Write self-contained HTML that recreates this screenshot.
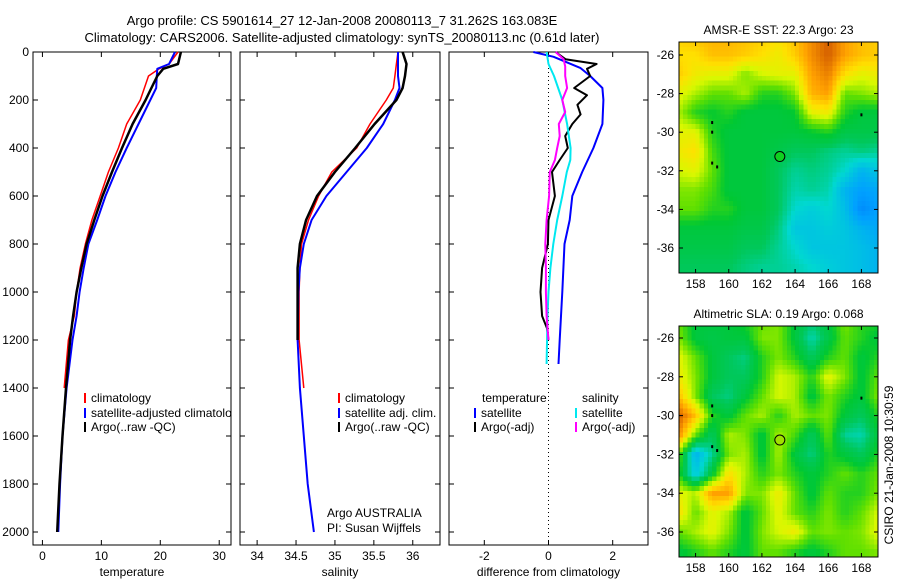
<!DOCTYPE html>
<html><head><meta charset="utf-8"><style>
html,body{margin:0;padding:0;background:#fff;}
svg{display:block;font-family:"Liberation Sans",sans-serif;}
text{font-size:12px;fill:#000;}
</style></head><body>
<svg id="fig" width="900" height="580" viewBox="0 0 900 580" xmlns="http://www.w3.org/2000/svg">
<defs><clipPath id="clipP1"><rect x="33" y="52" width="198" height="493"/></clipPath></defs>
<text x="342" y="25" text-anchor="middle" style="font-size:13px">Argo profile: CS 5901614_27 12-Jan-2008 20080113_7 31.262S 163.083E</text>
<text x="342" y="42" text-anchor="middle" style="font-size:13px">Climatology: CARS2006. Satellite-adjusted climatology: synTS_20080113.nc (0.61d later)</text>
</svg>
<script>
// ---------- data ----------
const tDepth = [0,50,70,100,150,200,300,400,500,600,700,800,900,1000,1100,1200,1400,1600,1800,2000];
const tClim  = [23,21.5,19.8,18,17.3,16.6,14.3,12.9,11.2,9.8,8.4,7.3,6.4,5.8,5.4,4.4,3.7];
const tSat   = [22.5,21.5,19.5,19.4,19.3,18.3,16.3,14.3,12.4,10.7,9.3,7.8,7.0,6.3,5.8,5.1,4.1,3.4,3.0,2.7];
const tArgo  = [23.5,23,20.5,19.5,18.5,17.5,15.3,13.5,11.8,10.2,8.8,7.5,6.6,5.8,5.2,4.7,4.0,3.4,2.9,2.5];
const sDepth = [0,50,100,150,200,300,400,500,600,700,800,900,1000,1200,1400,1600,1800,2000];
const sClim  = [35.81,35.79,35.77,35.75,35.66,35.45,35.28,34.96,34.79,34.66,34.57,34.55,34.54,34.54,34.6];
const sSat   = [35.81,35.81,35.81,35.83,35.77,35.62,35.41,35.15,34.89,34.70,34.60,34.55,34.53,34.52,34.55,34.60,34.65,34.73];
const sArgo  = [35.87,35.92,35.90,35.87,35.79,35.51,35.26,35.00,34.77,34.63,34.55,34.52,34.52,34.52];
const dDepthSatT = [0,20,67,100,150,200,300,400,500,600,700,800,1000,1200,1300];
const dSatT      = [-0.47,0.16,1.0,1.3,1.68,1.71,1.68,1.4,1.05,0.74,0.66,0.5,0.43,0.35,0.31];
const dDepthArgoT = [0,30,50,70,100,150,180,220,260,300,350,400,450,500,600,700,800,900,1000,1100,1150,1200];
const dArgoT      = [0.22,0.53,1.5,1.2,1.3,0.8,1.2,0.9,1.0,0.74,0.52,0.6,0.35,0.11,0.2,0.0,-0.02,-0.2,-0.25,-0.2,-0.05,0];
const dDepthSatS = [0,50,100,200,300,400,450,500,600,700,800,900,1000,1100,1300];
const dSatS      = [-0.06,0.0,0.17,0.43,0.58,0.69,0.68,0.57,0.43,0.27,0.15,0.06,0.0,-0.03,-0.06];
const dDepthArgoS = [0,30,60,100,150,200,250,300,350,400,450,500,600,700,800,900,1000,1100,1200];
const dArgoS      = [0.22,0.47,0.52,0.52,0.58,0.43,0.52,0.32,0.35,0.27,0.2,0.04,0.02,-0.06,-0.1,-0.08,-0.08,-0.06,0];
const depthTicks = [0,200,400,600,800,1000,1200,1400,1600,1800,2000];
const tTicks = [0,10,20,30];
const sTicks = [34,34.5,35,35.5,36];
const dTicks = [-2,0,2];

// map grids (rows lat -25..-37, cols lon 157..169), values 0..1 on colormap
const sstGrid = [
[0.78,0.8,0.82,0.82,0.8,0.78,0.75,0.8,0.88,0.95,0.85,0.8,0.78],
[0.75,0.75,0.8,0.8,0.78,0.75,0.72,0.78,0.88,0.95,0.85,0.8,0.78],
[0.78,0.72,0.7,0.7,0.62,0.68,0.7,0.7,0.85,0.9,0.75,0.7,0.72],
[0.7,0.65,0.6,0.6,0.65,0.55,0.55,0.62,0.82,0.85,0.6,0.62,0.65],
[0.65,0.55,0.52,0.55,0.5,0.5,0.5,0.52,0.7,0.72,0.55,0.5,0.5],
[0.7,0.7,0.55,0.5,0.5,0.5,0.5,0.5,0.52,0.55,0.48,0.48,0.48],
[0.72,0.75,0.58,0.5,0.5,0.5,0.48,0.45,0.45,0.42,0.4,0.42,0.4],
[0.68,0.7,0.6,0.5,0.5,0.5,0.45,0.4,0.42,0.4,0.35,0.25,0.3],
[0.62,0.62,0.58,0.5,0.5,0.5,0.45,0.38,0.4,0.38,0.25,0.2,0.22],
[0.6,0.6,0.55,0.55,0.5,0.5,0.45,0.35,0.32,0.35,0.28,0.15,0.2],
[0.5,0.5,0.5,0.5,0.48,0.48,0.42,0.3,0.3,0.32,0.3,0.25,0.22],
[0.48,0.48,0.48,0.48,0.45,0.45,0.4,0.35,0.3,0.3,0.3,0.28,0.25],
[0.45,0.45,0.45,0.45,0.42,0.4,0.4,0.38,0.35,0.32,0.3,0.28,0.25]];
const slaGrid = [
[0.6,0.5,0.5,0.5,0.55,0.6,0.62,0.5,0.45,0.5,0.62,0.55,0.55],
[0.62,0.5,0.48,0.5,0.5,0.62,0.62,0.5,0.38,0.48,0.6,0.55,0.5],
[0.7,0.6,0.5,0.45,0.42,0.55,0.62,0.55,0.45,0.55,0.6,0.5,0.55],
[0.72,0.62,0.5,0.45,0.45,0.55,0.68,0.65,0.55,0.7,0.62,0.5,0.6],
[0.8,0.62,0.45,0.42,0.5,0.6,0.68,0.65,0.5,0.62,0.55,0.5,0.62],
[0.95,0.8,0.55,0.5,0.6,0.65,0.55,0.65,0.6,0.62,0.5,0.45,0.55],
[0.88,0.6,0.45,0.65,0.62,0.5,0.65,0.58,0.45,0.6,0.4,0.38,0.5],
[0.6,0.25,0.4,0.62,0.65,0.5,0.65,0.5,0.42,0.55,0.5,0.45,0.55],
[0.55,0.3,0.5,0.75,0.65,0.55,0.62,0.55,0.5,0.55,0.6,0.55,0.6],
[0.7,0.65,0.85,0.85,0.62,0.62,0.72,0.6,0.5,0.6,0.55,0.55,0.62],
[0.75,0.6,0.7,0.65,0.5,0.6,0.7,0.6,0.55,0.62,0.55,0.6,0.68],
[0.6,0.65,0.7,0.62,0.5,0.62,0.68,0.72,0.6,0.62,0.6,0.62,0.7],
[0.5,0.55,0.6,0.55,0.5,0.6,0.6,0.55,0.5,0.55,0.6,0.6,0.62]];
const lonTicks = [158,160,162,164,166,168];
const latTicks = [-26,-28,-30,-32,-34,-36];
const floatLon = 163.08, floatLat = -31.26;
const dotsLon = [159,159,159,159.3,168];
const dotsLat = [-29.5,-30,-31.6,-31.8,-29.1];

// ---------- drawing ----------
const NS = "http://www.w3.org/2000/svg";
const svg = document.getElementById('fig');
function mk(tag, attrs, parent){ const e=document.createElementNS(NS,tag); for(const k in attrs) e.setAttribute(k,attrs[k]); (parent||svg).appendChild(e); return e; }
function txt(x,y,s,anchor,parent){ const t=mk('text',{x:x,y:y,'text-anchor':anchor||'start'},parent); t.textContent=s; return t; }

const yTop=52, yBot=545, d0y=52, d2000y=532;
const yOf = d => d0y + d*(d2000y-d0y)/2000;

function panel(name, x0, x1, vmin, vmax, ticks, tickFmt, xlabel, showY){
  const g = mk('g',{});
  
  
  const xOf = v => x0 + (v-vmin)*(x1-x0)/(vmax-vmin);
  const box = mk('rect',{x:x0,y:yTop,width:x1-x0,height:yBot-yTop,fill:'none',stroke:'#000','stroke-width':1},g);
  
  
  depthTicks.forEach(d=>{
    const y=yOf(d);
    mk('line',{x1:x0,x2:x0+5,y1:y,y2:y,stroke:'#000'},g);
    mk('line',{x1:x1-5,x2:x1,y1:y,y2:y,stroke:'#000'},g);
    if(showY){ const t=txt(x0-4,y+4,String(d),'end',g);
      
       }
  });
  ticks.forEach(v=>{
    const x=xOf(v);
    mk('line',{x1:x,x2:x,y1:yBot,y2:yBot-5,stroke:'#000'},g);
    mk('line',{x1:x,x2:x,y1:yTop,y2:yTop+5,stroke:'#000'},g);
    const t=txt(x,560,tickFmt(v),'middle',g);
    
    
  });
  const xl=txt((x0+x1)/2,576,xlabel,'middle',g);
  
  
  return {g,xOf};
}
function series(p, depths, vals, color, w, name){
  const pts=[]; for(let i=0;i<vals.length;i++) pts.push(p.xOf(vals[i]).toFixed(1)+','+yOf(depths[i]).toFixed(1));
  const l=mk('polyline',{points:pts.join(' '),fill:'none',stroke:color,'stroke-width':w,'stroke-linejoin':'round'},p.g);
  
  
}
function legend(p, x, y, color, label, name, clip){
  const m=mk('rect',{x:x,y:y-9,width:2,height:10,fill:color},p.g);
  
  
  const t=txt(x+7,y,label,'start',p.g);
  if(clip) t.setAttribute('clip-path','url(#clipP1)');
  
  
}

const p1 = panel('temperature-panel',33,231,-1.6,32,tTicks,String,'temperature',true);
series(p1,tDepth,tClim,'#ff0000',1.5,'temp-climatology-line');
series(p1,tDepth,tSat,'#0000ff',2,'temp-satellite-line');
series(p1,tDepth,tArgo,'#000000',2.5,'temp-argo-line');
legend(p1,84,402,'#ff0000','climatology','legend-entry-climatology',true);
legend(p1,84,417,'#0000ff','satellite-adjusted climatology','legend-entry-satellite',true);
legend(p1,84,431,'#000000','Argo(..raw -QC)','legend-entry-argo',true);

const p2 = panel('salinity-panel',240,440,33.78,36.35,sTicks,String,'salinity',false);
series(p2,sDepth,sClim,'#ff0000',1.5,'sal-climatology-line');
series(p2,sDepth,sSat,'#0000ff',2,'sal-satellite-line');
series(p2,sDepth,sArgo,'#000000',2.5,'sal-argo-line');
legend(p2,338,402,'#ff0000','climatology','legend-entry-climatology');
legend(p2,338,417,'#0000ff','satellite adj. clim.','legend-entry-satellite');
legend(p2,338,431,'#000000','Argo(..raw -QC)','legend-entry-argo');
let t=txt(327,517,'Argo AUSTRALIA','start',p2.g);  
t=txt(327,532,'PI: Susan Wijffels','start',p2.g);  

const p3 = panel('difference-panel',449,648,-3.1,3.1,dTicks,String,'difference from climatology',false);
const z=mk('line',{x1:p3.xOf(0),x2:p3.xOf(0),y1:yTop,y2:yBot,stroke:'#000','stroke-dasharray':'1,3'},p3.g);
 
series(p3,dDepthSatT,dSatT,'#0000ff',2,'diff-temp-satellite-line');
series(p3,dDepthArgoT,dArgoT,'#000000',2,'diff-temp-argo-line');
series(p3,dDepthSatS,dSatS,'#00e8f0',2,'diff-sal-satellite-line');
series(p3,dDepthArgoS,dArgoS,'#ff00ff',2,'diff-sal-argo-line');
t=txt(482,402,'temperature','start',p3.g);  
t=txt(582,402,'salinity','start',p3.g);  
legend(p3,474,417,'#0000ff','satellite','legend-entry-temp-satellite');
legend(p3,474,431,'#000000','Argo(-adj)','legend-entry-temp-argo');
legend(p3,575,417,'#00e8f0','satellite','legend-entry-sal-satellite');
legend(p3,575,431,'#ff00ff','Argo(-adj)','legend-entry-sal-argo');

// colormap
const stops=[[0,[0,80,240]],[0.2,[0,160,255]],[0.35,[0,216,208]],[0.45,[0,200,90]],[0.52,[0,200,50]],[0.6,[96,224,0]],[0.68,[216,248,0]],[0.75,[255,224,0]],[0.85,[255,160,0]],[1,[192,64,0]]];
function cmap(v){ v=Math.max(0,Math.min(1,v));
  for(let i=1;i<stops.length;i++){ if(v<=stops[i][0]){ const a=stops[i-1],b=stops[i],f=(v-a[0])/(b[0]-a[0]);
    return 'rgb('+a[1].map((c,k)=>Math.round(c+(b[1][k]-c)*f)).join(',')+')'; } }
  return 'rgb(192,64,0)'; }

function mapPanel(name, grid, x0,x1,y0,y1,latA,yA,latB,yB,title,circleColor){
  const g=mk('g',{});
  
  
  const lx = lon => x0 + (lon-157)*(x1-x0)/12;
  const ly = lat => yA + (lat-latA)*(yB-yA)/(latB-latA);
  const latTop=latA+(y0-yA)*(latB-latA)/(yB-yA), latBot=latA+(y1-yA)*(latB-latA)/(yB-yA);
  const step=0.25;
  const cg=mk('g',{'shape-rendering':'crispEdges'},g);
  for(let lon=157; lon<169; lon+=step){
    for(let lat=latTop; lat>latBot; lat-=step){
      const cl=lon+step/2, ct=lat-step/2;
      let fr=(-25-ct), fc=(cl-157);
      fr=Math.max(0,Math.min(12,fr)); fc=Math.max(0,Math.min(12,fc));
      const r0=Math.min(11,Math.floor(fr)), c0=Math.min(11,Math.floor(fc)), dr=fr-r0, dc=fc-c0;
      const v=grid[r0][c0]*(1-dr)*(1-dc)+grid[r0][c0+1]*(1-dr)*dc+grid[r0+1][c0]*dr*(1-dc)+grid[r0+1][c0+1]*dr*dc;
      const xa=lx(lon), xb=lx(lon+step), ya=Math.max(y0,ly(lat)), yb=Math.min(y1,ly(lat-step));
      mk('rect',{x:xa.toFixed(2),y:ya.toFixed(2),width:(xb-xa+0.6).toFixed(2),height:(yb-ya+0.6).toFixed(2),fill:cmap(v)},cg);
    }
  }
  for(let i=0;i<dotsLon.length;i++){
    const d=mk('rect',{x:lx(dotsLon[i])-1,y:ly(dotsLat[i])-1.5,width:2,height:3,fill:'#000'},g);
    
    
  }
  const c=mk('circle',{cx:lx(floatLon),cy:ly(floatLat),r:5,fill:circleColor,stroke:'#000','stroke-width':1},g);
  
  
  const fr=mk('rect',{x:x0,y:y0,width:x1-x0,height:y1-y0,fill:'none',stroke:'#000'},g);
  
  
  lonTicks.forEach(lon=>{ const x=lx(lon);
    mk('line',{x1:x,x2:x,y1:y1,y2:y1-4,stroke:'#000'},g); mk('line',{x1:x,x2:x,y1:y0,y2:y0+4,stroke:'#000'},g);
    const tt=txt(x,y1+15,String(lon),'middle',g);   });
  latTicks.forEach(lat=>{ const y=ly(lat);
    mk('line',{x1:x0,x2:x0+4,y1:y,y2:y,stroke:'#000'},g); mk('line',{x1:x1-4,x2:x1,y1:y,y2:y,stroke:'#000'},g);
    const tt=txt(x0-5,y+4,String(lat),'end',g);   });
  const tt=txt((x0+x1)/2,y0-8,title,'middle',g);
  
  
}
mapPanel('sst-map',sstGrid,679,878,42,273,-26,55,-36,248,'AMSR-E SST: 22.3 Argo: 23','#10d020');
mapPanel('sla-map',slaGrid,679,878,326,557,-26,338,-36,532,'Altimetric SLA: 0.19 Argo: 0.068','#a0e000');
const cs=txt(0,0,'CSIRO 21-Jan-2008 10:30:59','middle');
cs.setAttribute('transform','translate(893,465) rotate(-90)');


</script>
</body></html>
